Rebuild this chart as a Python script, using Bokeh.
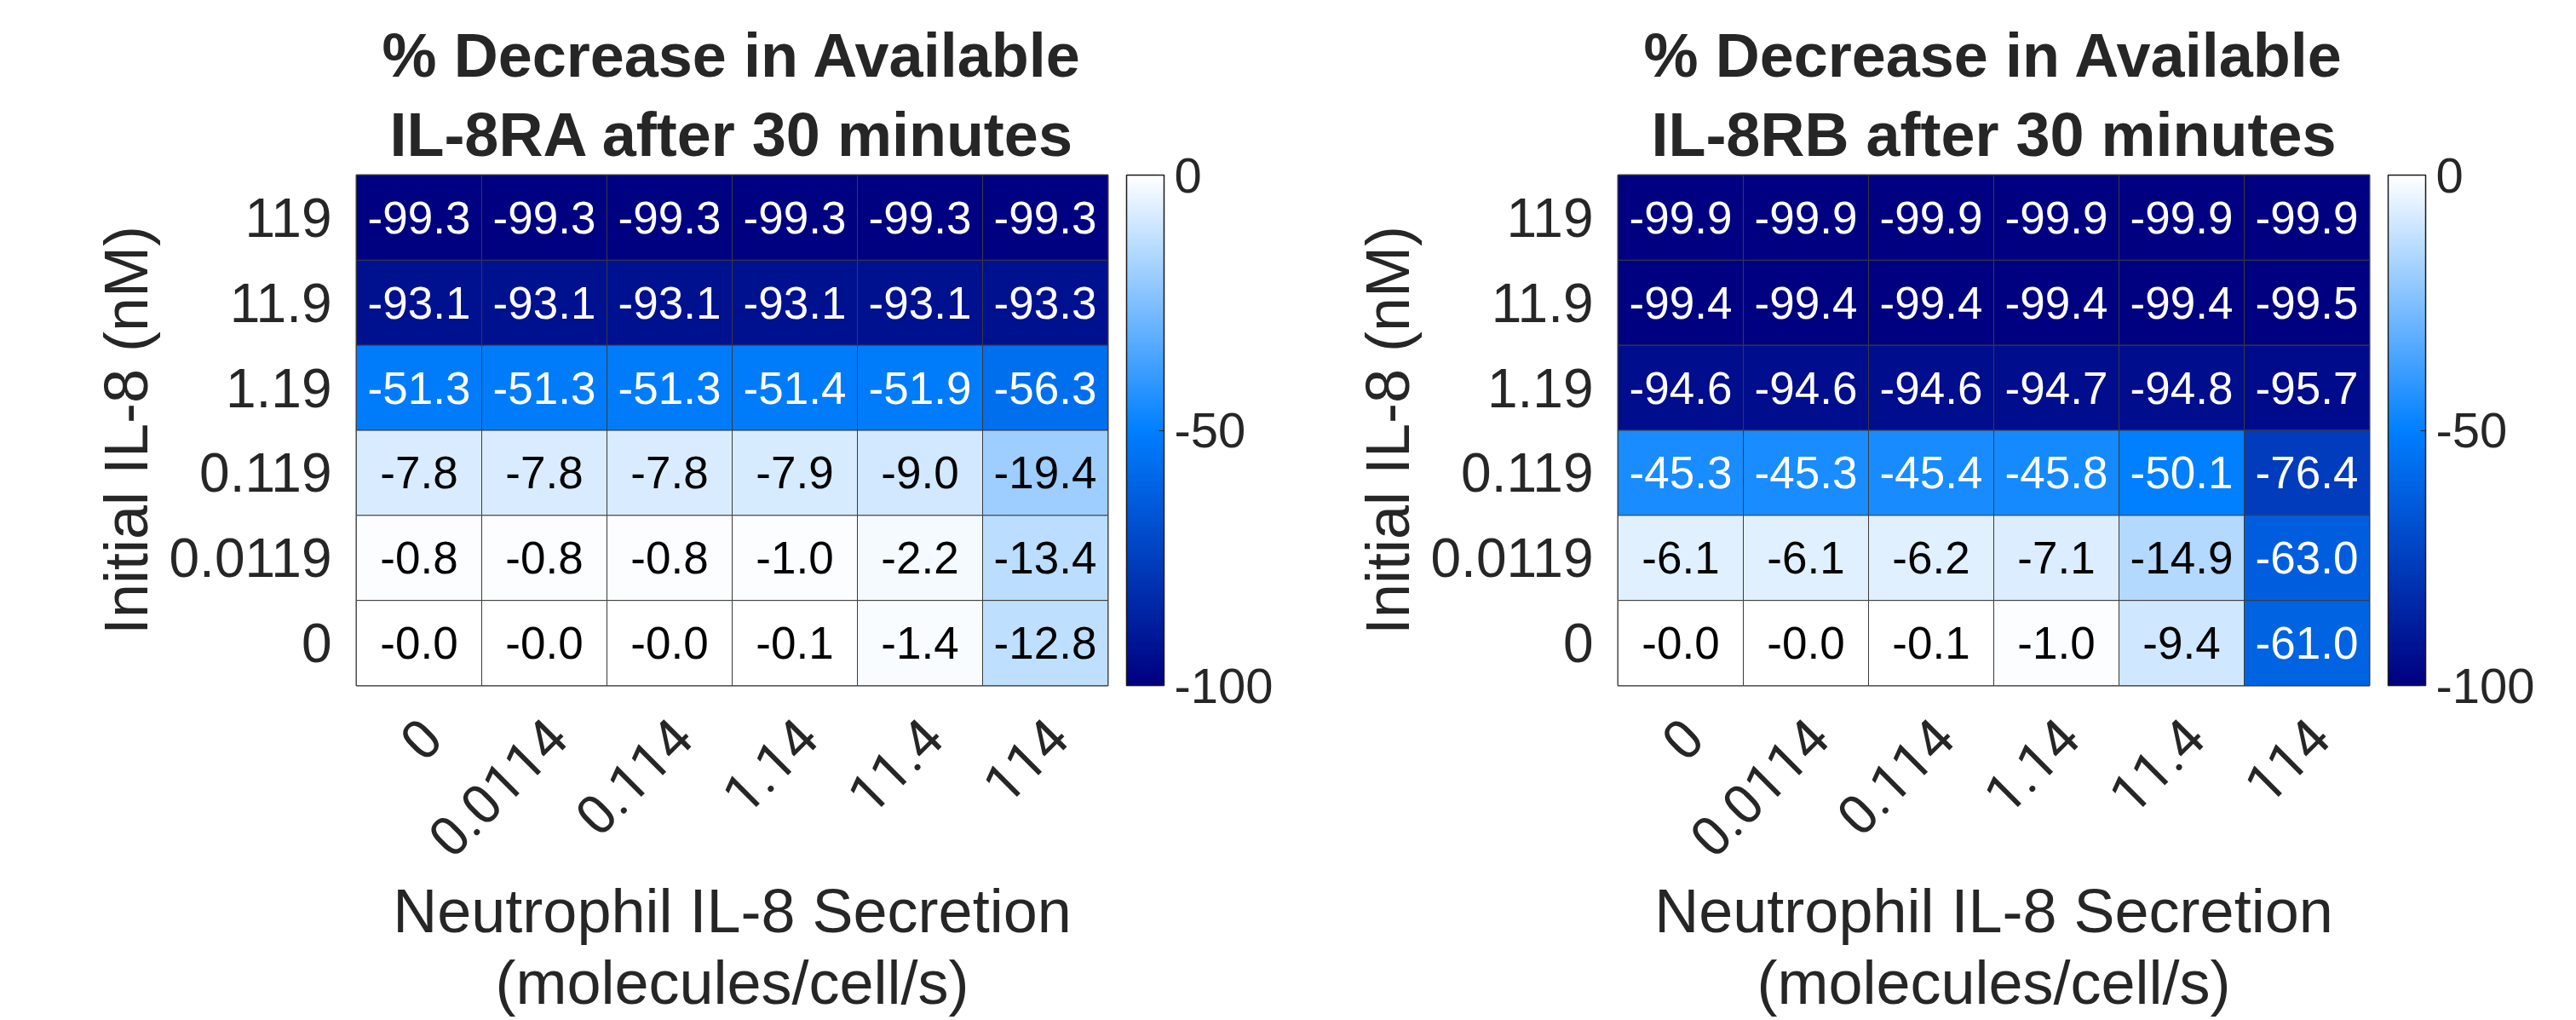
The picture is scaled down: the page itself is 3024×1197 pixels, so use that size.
import math
from bokeh.plotting import figure
from bokeh.models import (ColumnDataSource, FactorRange, Range1d, LinearColorMapper, ColorBar,
                          FixedTicker, Title, PrintfTickFormatter)
from bokeh.layouts import row
from bokeh.embed import file_html
from bokeh.resources import INLINE
from bokeh.core.properties import value

# ---------------- data ----------------
secretion = ["0", "0.0114", "0.114", "1.14", "11.4", "114"]          # x categories
initial_il8 = ["119", "11.9", "1.19", "0.119", "0.0119", "0"]         # y categories, top to bottom

ra_values = [
    [-99.3, -99.3, -99.3, -99.3, -99.3, -99.3],
    [-93.1, -93.1, -93.1, -93.1, -93.1, -93.3],
    [-51.3, -51.3, -51.3, -51.4, -51.9, -56.3],
    [-7.8, -7.8, -7.8, -7.9, -9.0, -19.4],
    [-0.8, -0.8, -0.8, -1.0, -2.2, -13.4],
    [-0.0, -0.0, -0.0, -0.1, -1.4, -12.8],
]
rb_values = [
    [-99.9, -99.9, -99.9, -99.9, -99.9, -99.9],
    [-99.4, -99.4, -99.4, -99.4, -99.4, -99.5],
    [-94.6, -94.6, -94.6, -94.7, -94.8, -95.7],
    [-45.3, -45.3, -45.4, -45.8, -50.1, -76.4],
    [-6.1, -6.1, -6.2, -7.1, -14.9, -63.0],
    [-0.0, -0.0, -0.1, -1.0, -9.4, -61.0],
]
colorbar_ticks = [-100, -50, 0]

# ---------------- style ----------------
FONT = "Liberation Sans"
XFONT = "Roboto"
TXT = "#262626"
LABEL_SHIFT = 0.1   # rotated tick labels sit slightly right of the cell centre


def cmap_color(v):
    # white (0) -> azure (-50) -> navy (-100)
    if v >= -50:
        s = -v / 50.0
        r, g, b = 1 - s, 1 - 0.5 * s, 1.0
    else:
        s = (-v - 50) / 50.0
        r, g, b = 0.0, 0.5 * (1 - s), 1 - 0.5 * s
    return "#%02x%02x%02x" % (round(r * 255), round(g * 255), round(b * 255))


palette = [cmap_color(-100 + 100 * i / 255.0) for i in range(256)]
mapper = LinearColorMapper(palette=palette, low=-100, high=0)


def make(line1, line2, vals, bl, br):
    xs, ys, vs, labels, tcs = [], [], [], [], []
    for i, ylab in enumerate(initial_il8):
        for j, xlab in enumerate(secretion):
            v = vals[i][j]
            xs.append(j + 0.5)
            ys.append(ylab)
            vs.append(v)
            labels.append(f"{v:.1f}")
            tcs.append("white" if v < -30 else "black")
    src = ColumnDataSource(dict(x=xs, y=ys, v=vs, label=labels, tc=tcs))

    p = figure(x_range=Range1d(0, len(secretion)),
               y_range=FactorRange(factors=list(reversed(initial_il8))),
               frame_width=882, frame_height=599,
               min_border_left=bl, min_border_right=br,
               min_border_top=205, min_border_bottom=385,
               output_backend="svg", toolbar_location=None)
    p.rect(x="x", y="y", width=1, height=1, source=src,
           fill_color={"field": "v", "transform": mapper},
           line_color="#3a3a3a", line_width=1)
    p.text(x="x", y="y", text="label", source=src, text_color="tc",
           text_align="center", text_baseline="middle",
           text_font=value(FONT), text_font_size="53px")

    p.grid.visible = False
    p.outline_line_color = "#3a3a3a"
    p.outline_line_width = 2
    for ax in (p.xaxis[0], p.yaxis[0]):
        ax.axis_line_color = None
        ax.major_tick_line_color = None
        ax.minor_tick_line_color = None
        ax.major_label_text_font = FONT
        ax.major_label_text_font_size = "64px"
        ax.major_label_text_color = TXT
        ax.axis_label_text_font = FONT
        ax.axis_label_text_font_style = "normal"
        ax.axis_label_text_color = TXT
    p.xaxis.major_label_text_font = XFONT
    tick_pos = [j + 0.5 + LABEL_SHIFT for j in range(len(secretion))]
    p.xaxis.ticker = FixedTicker(ticks=tick_pos, minor_ticks=[])
    p.xaxis.major_label_overrides = {t: lab for t, lab in zip(tick_pos, secretion)}
    p.xaxis.major_label_orientation = math.pi / 4
    p.xaxis.major_label_standoff = 44
    p.xaxis.axis_label = "Neutrophil IL-8 Secretion\n(molecules/cell/s)"
    p.xaxis.axis_label_text_font_size = "72px"
    p.xaxis.axis_label_text_line_height = 1.05
    p.xaxis.axis_label_standoff = 0
    p.yaxis.major_label_standoff = 23
    p.yaxis.axis_label = "Initial IL-8 (nM)"
    p.yaxis.axis_label_text_font_size = "72px"
    p.yaxis.axis_label_standoff = 8

    cb = ColorBar(color_mapper=mapper, ticker=FixedTicker(ticks=colorbar_ticks),
                  formatter=PrintfTickFormatter(format="%d"),
                  width=44, height=599, location=(22, 0), margin=0, padding=0,
                  bar_line_color="#1a1a1a", bar_line_width=1.5,
                  major_tick_in=6, major_tick_out=0, major_tick_line_color="#262626",
                  minor_tick_line_color=None,
                  label_standoff=12,
                  major_label_text_font=FONT, major_label_text_font_size="58px",
                  major_label_text_color=TXT,
                  background_fill_color=None, border_line_color=None)
    p.add_layout(cb, "right")

    for t, so in ((line2, 16), (line1, 5)):
        p.add_layout(Title(text=t, align="center", text_font=FONT,
                           text_font_size="72px", text_font_style="bold",
                           text_color=TXT, standoff=so), "above")
    return p


p1 = make("% Decrease in Available", "IL-8RA after 30 minutes", ra_values, 418, 212)
p2 = make("% Decrease in Available", "IL-8RB after 30 minutes", rb_values, 387, 243)

layout = row(p1, p2)
open("out.html", "w").write(file_html(layout, INLINE))
